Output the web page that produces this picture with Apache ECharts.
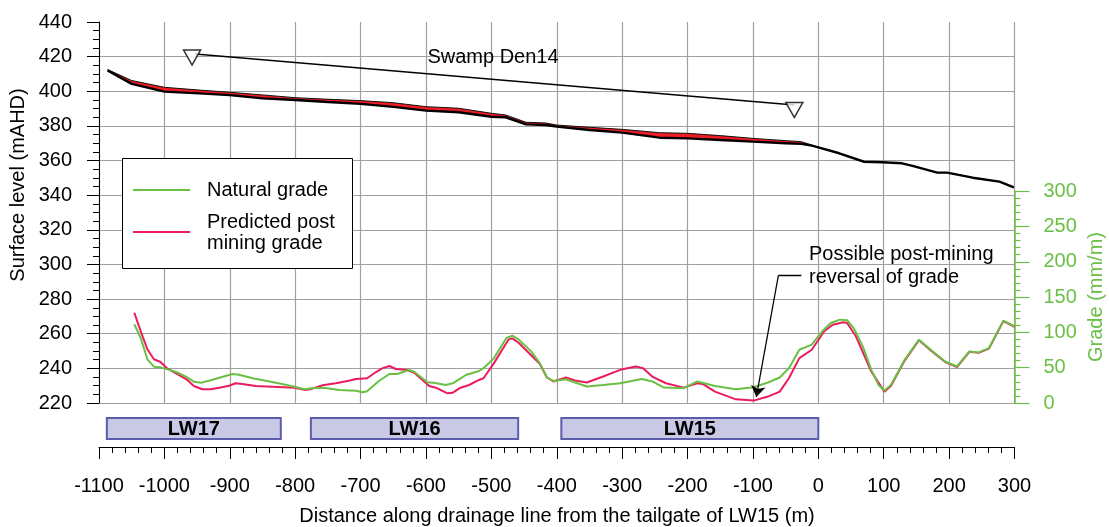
<!DOCTYPE html>
<html>
<head>
<meta charset="utf-8">
<script src="https://cdn.jsdelivr.net/npm/echarts@6/dist/echarts.min.js"></script>
<style>
  html, body { margin: 0; padding: 0; background: #fff; }
  #chart { width: 1109px; height: 527px; }
</style>
</head>
<body>
<div id="chart"></div>
<script>
// Surface profile along the drainage line: distance (m) and level (mAHD)
const surfaceDist = [-1087, -1050, -1000, -947, -900, -850, -800, -750, -700, -650, -600, -550, -500, -478, -447, -417, -400, -350, -300, -243, -200, -150, -100, -50, -26, -10, 0, 32, 70, 98, 128, 144, 182, 197, 236, 277, 299];
const surfaceNatural = [412.6, 406.2, 402.3, 400.7, 399.4, 397.9, 396.3, 395.4, 394.6, 393.4, 391.1, 390.2, 387.3, 386.3, 382.1, 381.7, 380.5, 379.2, 378.0, 376.1, 375.7, 374.4, 372.8, 371.5, 370.9, 369.0, 367.6, 364.2, 359.3, 359.0, 358.4, 356.9, 353.0, 353.0, 350.1, 347.8, 344.5];
const surfacePost = [412.0, 404.3, 399.8, 398.8, 397.8, 395.9, 395.0, 393.8, 392.7, 391.0, 388.8, 387.9, 385.3, 385.0, 380.9, 380.5, 379.6, 377.6, 376.1, 373.2, 372.8, 371.9, 370.9, 370.0, 369.6, 368.6, 367.6, 364.2, 359.3, 359.0, 358.4, 356.9, 353.0, 353.0, 350.1, 347.8, 344.5];

// Natural grade (mm/m)
const naturalGradeDist = [-1046, -1036, -1026, -1016, -1006, -983, -967, -955, -944, -932, -916, -896, -886, -865, -845, -820, -801, -786, -774, -756, -733, -707, -697, -690, -672, -656, -644, -626, -618, -598, -588, -570, -559, -539, -519, -512, -496, -477, -468, -458, -439, -426, -415, -405, -386, -372, -354, -329, -303, -270, -254, -236, -206, -185, -158, -126, -99, -77, -59, -45, -29, -10, 6, 19, 33, 44, 54, 68, 81, 92, 101, 111, 132, 154, 172, 194, 212, 231, 245, 261, 283, 300];
const naturalGrade = [111.5, 91.6, 61.9, 51.4, 50.5, 44.3, 37.3, 30.2, 28.8, 31.6, 35.8, 41.1, 40.1, 35.0, 31.6, 26.9, 23.1, 19.4, 20.8, 21.7, 18.4, 17.4, 15.2, 16.6, 31.2, 41.1, 41.1, 46.7, 44.3, 29.3, 28.8, 25.5, 27.9, 39.7, 45.3, 49.3, 63.6, 92.0, 95.3, 89.7, 73.1, 56.5, 36.1, 31.3, 33.7, 29.0, 23.4, 25.6, 28.0, 34.1, 30.5, 21.8, 21.0, 30.5, 24.2, 19.5, 22.4, 29.0, 36.1, 49.3, 75.4, 82.6, 101.6, 113.3, 118.1, 117.2, 106.2, 80.2, 47.0, 25.6, 17.6, 25.6, 61.2, 89.7, 75.4, 58.8, 51.7, 73.1, 71.7, 77.8, 116.7, 108.6];

// Predicted post mining grade (mm/m)
const predictedGradeDist = [-1046, -1036, -1026, -1016, -1006, -996, -978, -965, -955, -942, -929, -916, -901, -891, -881, -860, -835, -801, -784, -774, -758, -738, -718, -707, -690, -677, -667, -656, -646, -628, -618, -595, -585, -567, -559, -547, -534, -519, -512, -496, -474, -468, -458, -426, -415, -405, -386, -372, -354, -329, -303, -279, -268, -254, -233, -206, -185, -177, -158, -126, -99, -77, -59, -45, -29, -10, 9, 22, 38, 44, 57, 81, 101, 111, 132, 154, 172, 194, 212, 231, 245, 261, 283, 300];
const predictedGrade = [127.9, 101.0, 76.1, 61.9, 58.1, 49.1, 39.7, 32.6, 24.1, 19.4, 19.4, 21.7, 24.5, 27.9, 26.9, 24.1, 23.1, 21.7, 18.4, 20.3, 25.1, 27.9, 31.6, 34.0, 35.0, 43.5, 49.1, 52.4, 48.2, 46.7, 42.9, 24.1, 21.7, 13.7, 14.6, 21.7, 25.5, 32.6, 35.1, 56.5, 89.7, 91.5, 85.0, 55.5, 36.1, 30.5, 36.1, 31.9, 29.0, 37.5, 47.0, 51.7, 49.3, 37.5, 28.0, 21.8, 28.0, 27.0, 16.1, 5.2, 3.4, 9.1, 16.1, 35.1, 63.6, 75.4, 101.6, 110.9, 114.3, 113.3, 95.3, 44.6, 16.1, 24.0, 60.0, 89.0, 74.5, 58.0, 51.0, 72.5, 71.0, 77.0, 116.0, 108.0];

// Longwall panels under the drainage line
const panelNames = ['LW17', 'LW16', 'LW15'];
const panelStart = [-1088, -776, -393];
const panelEnd = [-822, -459, 0];

// Axis tick values
const distanceTicks = [-1100, -1000, -900, -800, -700, -600, -500, -400, -300, -200, -100, 0, 100, 200, 300];
const levelTicks = [220, 240, 260, 280, 300, 320, 340, 360, 380, 400, 420, 440];
const gradeTicks = [0, 50, 100, 150, 200, 250, 300];

// Swamp Den14 extent marker (distance, level)
const swampLine = [[-953, 421.5], [-36.7, 392.1]];
const swampMarkers = [[-957.7, 419.5], [-36.7, 389.2]];
// Leader to the grade reversal (distance, grade)
const reversalLeaderTop = [[-26, 180.6], [-61.1, 180.6]];
const reversalLeaderArrow = [[-61.1, 180.6], [-94.8, 8.5]];

const FONT = "'Liberation Sans', Arial, Helvetica, sans-serif";
const GREEN = '#6abf45';
const PINK = '#ec1c5c';
const GRID_GRAY = '#a0a0a0';

const pairs = (xs, ys) => xs.map((x, i) => [x, ys[i]]);
const plainNumber = (v) => String(v);

const chart = echarts.init(document.getElementById('chart'), null, { renderer: 'canvas' });

const gridPos = { left: 99, right: 94.5 };

const option = {
  animation: false,
  backgroundColor: '#fff',
  grid: [
    { left: gridPos.left, right: gridPos.right, top: 22, bottom: 124 },
    { left: gridPos.left, right: gridPos.right, top: 191.2, bottom: 124 },
    { left: gridPos.left, right: gridPos.right, top: 410, bottom: 80 }
  ],
  xAxis: [
    {
      gridIndex: 0, type: 'value', min: distanceTicks[0], max: distanceTicks[distanceTicks.length - 1], interval: 100,
      axisLine: { show: false, onZero: false }, axisTick: { show: false }, axisLabel: { show: false },
      splitLine: { show: true, lineStyle: { color: GRID_GRAY, width: 1.2 } }
    },
    {
      gridIndex: 1, type: 'value', min: distanceTicks[0], max: distanceTicks[distanceTicks.length - 1],
      axisLine: { show: false, onZero: false }, axisTick: { show: false }, axisLabel: { show: false },
      splitLine: { show: false }
    },
    {
      gridIndex: 2, type: 'value', position: 'bottom',
      min: distanceTicks[0], max: distanceTicks[distanceTicks.length - 1], interval: 100,
      axisLine: { show: true, onZero: false, lineStyle: { color: '#000', width: 1 } },
      axisTick: { show: true, inside: false, length: 12, lineStyle: { color: '#000', width: 1 } },
      minorTick: { show: true, splitNumber: 5, length: 6, lineStyle: { color: '#000', width: 1 } },
      axisLabel: { show: true, margin: 29, fontSize: 20, fontFamily: FONT, color: '#000', formatter: plainNumber },
      splitLine: { show: false }
    }
  ],
  yAxis: [
    {
      gridIndex: 0, type: 'value', min: levelTicks[0], max: levelTicks[levelTicks.length - 1], interval: 20,
      axisLine: { show: true, onZero: false, lineStyle: { color: '#000', width: 1 } },
      axisTick: { show: true, inside: false, length: 12, lineStyle: { color: '#000' } },
      minorTick: { show: true, splitNumber: 4, length: 6, lineStyle: { color: '#000' } },
      axisLabel: { margin: 27, fontSize: 20, fontFamily: FONT, color: '#000', formatter: plainNumber },
      splitLine: { show: true, showMaxLine: false, lineStyle: { color: GRID_GRAY, width: 1.2 } }
    },
    {
      gridIndex: 1, type: 'value', position: 'right', min: gradeTicks[0], max: gradeTicks[gradeTicks.length - 1], interval: 50,
      axisLine: { show: true, onZero: false, lineStyle: { color: GREEN, width: 1.5 } },
      axisTick: { show: true, inside: false, length: 15, lineStyle: { color: GREEN, width: 1.2 } },
      minorTick: { show: true, splitNumber: 5, length: 6, lineStyle: { color: GREEN, width: 1.2 } },
      axisLabel: { margin: 29, fontSize: 20, fontFamily: FONT, color: GREEN, formatter: plainNumber },
      splitLine: { show: false }
    },
    { gridIndex: 2, type: 'value', min: 0, max: 1, show: false }
  ],
  series: [
    {
      // red band between the natural and the post-mining surface
      name: 'Subsidence', type: 'custom', xAxisIndex: 0, yAxisIndex: 0, z: 2,
      data: [[surfaceDist[0], surfaceNatural[0]]],
      renderItem: function (params, api) {
        const pts = [];
        for (let i = 0; i < surfaceDist.length; i++) pts.push(api.coord([surfaceDist[i], surfaceNatural[i]]));
        for (let i = surfaceDist.length - 1; i >= 0; i--) pts.push(api.coord([surfaceDist[i], surfacePost[i]]));
        return { type: 'polygon', shape: { points: pts }, style: { fill: '#ee1c24', stroke: null } };
      }
    },
    {
      name: 'Natural surface', type: 'line', xAxisIndex: 0, yAxisIndex: 0, symbol: 'none', z: 3,
      lineStyle: { color: '#111', width: 1 },
      data: pairs(surfaceDist, surfaceNatural)
    },
    {
      name: 'Post-mining surface', type: 'line', xAxisIndex: 0, yAxisIndex: 0, symbol: 'none', z: 4,
      lineStyle: { color: '#000', width: 2.4 },
      data: pairs(surfaceDist, surfacePost)
    },
    {
      name: 'Swamp Den14', type: 'line', xAxisIndex: 0, yAxisIndex: 0, symbol: 'none', z: 5,
      lineStyle: { color: '#000', width: 1.5 },
      data: swampLine
    },
    {
      name: 'Swamp markers', type: 'scatter', xAxisIndex: 0, yAxisIndex: 0, z: 6,
      symbol: 'triangle', symbolRotate: 180, symbolSize: [17, 15],
      itemStyle: { color: '#fff', borderColor: '#000', borderWidth: 1.5 },
      data: swampMarkers
    },
    {
      name: 'Natural grade', type: 'line', xAxisIndex: 1, yAxisIndex: 1, symbol: 'none', z: 4,
      lineStyle: { color: GREEN, width: 2 },
      data: pairs(naturalGradeDist, naturalGrade)
    },
    {
      name: 'Predicted post mining grade', type: 'line', xAxisIndex: 1, yAxisIndex: 1, symbol: 'none', z: 3,
      lineStyle: { color: PINK, width: 2 },
      data: pairs(predictedGradeDist, predictedGrade)
    },
    {
      name: 'Reversal leader', type: 'line', xAxisIndex: 1, yAxisIndex: 1, symbol: 'none', z: 7,
      lineStyle: { color: '#000', width: 1.3 },
      data: reversalLeaderTop
    },
    {
      name: 'Reversal arrow', type: 'lines', coordinateSystem: 'cartesian2d', xAxisIndex: 1, yAxisIndex: 1, z: 7,
      symbol: ['none', 'arrow'], symbolSize: 11,
      lineStyle: { color: '#000', width: 1.3, opacity: 1 },
      data: [{ coords: reversalLeaderArrow }]
    },
    {
      name: 'Panels', type: 'custom', xAxisIndex: 2, yAxisIndex: 2,
      encode: { x: [0, 1] },
      data: panelNames.map((n, i) => ({ name: n, value: [panelStart[i], panelEnd[i]] })),
      renderItem: function (params, api) {
        const p0 = api.coord([api.value(0), 0.784]);
        const p1 = api.coord([api.value(1), 0.216]);
        return {
          type: 'group',
          children: [
            {
              type: 'rect',
              shape: { x: p0[0], y: p0[1], width: p1[0] - p0[0], height: p1[1] - p0[1] },
              style: { fill: '#c9c9e6', stroke: '#5d5dae', lineWidth: 2 }
            },
            {
              type: 'text',
              style: {
                text: panelNames[params.dataIndex],
                x: (p0[0] + p1[0]) / 2, y: (p0[1] + p1[1]) / 2 + 1,
                align: 'center', verticalAlign: 'middle',
                font: 'bold 20px ' + FONT, fill: '#000'
              }
            }
          ]
        };
      }
    }
  ],
  graphic: [
    // axis titles
    {
      type: 'text', x: 18, y: 185, rotation: Math.PI / 2,
      style: { text: 'Surface level (mAHD)', align: 'center', verticalAlign: 'middle', font: '20px ' + FONT, fill: '#000' }
    },
    {
      type: 'text', x: 1096, y: 297, rotation: Math.PI / 2,
      style: { text: 'Grade (mm/m)', align: 'center', verticalAlign: 'middle', font: '20px ' + FONT, fill: GREEN }
    },
    {
      type: 'text', x: 557, y: 516,
      style: { text: 'Distance along drainage line from the tailgate of LW15 (m)', align: 'center', verticalAlign: 'middle', font: '20px ' + FONT, fill: '#000' }
    },
    // annotations
    {
      type: 'text', x: 493, y: 57, z: 10,
      style: { text: 'Swamp Den14', align: 'center', verticalAlign: 'middle', font: '20px ' + FONT, fill: '#000' }
    },
    {
      type: 'text', x: 809, y: 265.5, z: 10,
      style: { text: 'Possible post-mining\nreversal of grade', align: 'left', verticalAlign: 'middle', lineHeight: 23, font: '20px ' + FONT, fill: '#000' }
    },
    // legend
    {
      type: 'rect', z: 20, shape: { x: 122.5, y: 158.5, width: 230, height: 110 },
      style: { fill: '#fff', stroke: '#000', lineWidth: 1 }
    },
    {
      type: 'line', z: 21, shape: { x1: 133, y1: 190, x2: 190, y2: 190 },
      style: { stroke: GREEN, lineWidth: 2 }
    },
    {
      type: 'text', z: 21, x: 207, y: 190,
      style: { text: 'Natural grade', align: 'left', verticalAlign: 'middle', font: '20px ' + FONT, fill: '#000' }
    },
    {
      type: 'line', z: 21, shape: { x1: 133, y1: 232, x2: 190, y2: 232 },
      style: { stroke: PINK, lineWidth: 2 }
    },
    {
      type: 'text', z: 21, x: 207, y: 232.5,
      style: { text: 'Predicted post\nmining grade', align: 'left', verticalAlign: 'middle', lineHeight: 21, font: '20px ' + FONT, fill: '#000' }
    }
  ]
};

chart.setOption(option);
</script>
</body>
</html>
